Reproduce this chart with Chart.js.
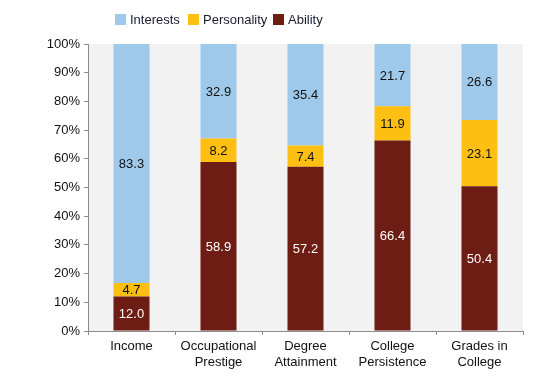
<!DOCTYPE html>
<html>
<head>
<meta charset="utf-8">
<script src="https://cdn.jsdelivr.net/npm/chart.js@4"></script>
<style>
  html, body { margin: 0; padding: 0; background: #fff; }
  #wrap { width: 552px; height: 384px; }
</style>
</head>
<body>
<div id="wrap"><canvas id="myChart"></canvas></div>
<script>
const categories = [['Income'], ['Occupational', 'Prestige'], ['Degree', 'Attainment'], ['College', 'Persistence'], ['Grades in', 'College']];
const ability = [12.0, 58.9, 57.2, 66.4, 50.4];
const personality = [4.7, 8.2, 7.4, 11.9, 23.1];
const interests = [83.3, 32.9, 35.4, 21.7, 26.6];

const font = "'Liberation Sans Narrow', 'Arial Narrow', 'Liberation Sans', Arial, sans-serif";

// gray plot area
const plotBg = {
	id: 'plotBg',
	beforeDraw(chart) {
		const { ctx, chartArea: a } = chart;
		ctx.save();
		ctx.fillStyle = '#f2f2f2';
		ctx.fillRect(a.left, a.top, a.right - a.left, a.bottom - a.top);
		ctx.restore();
	},
};

// value labels centred in each segment
const segLabels = {
	id: 'segLabels',
	afterDatasetsDraw(chart) {
		const ctx = chart.ctx;
		ctx.save();
		ctx.font = '13px ' + font;
		ctx.textAlign = 'center';
		ctx.textBaseline = 'middle';
		chart.data.datasets.forEach((ds, i) => {
			chart.getDatasetMeta(i).data.forEach((bar, j) => {
				const p = bar.getProps(['x', 'y', 'base'], true);
				ctx.fillStyle = ds.labelColor;
				ctx.fillText(ds.data[j].toFixed(1), p.x, (p.y + p.base) / 2 + 1);
			});
		});
		ctx.restore();
	},
};

// legend drawn by hand so it can sit left of centre
const topLegend = {
	id: 'topLegend',
	afterDraw(chart) {
		const ctx = chart.ctx;
		const items = [2, 1, 0];
		const xs = [115, 188, 273];
		ctx.save();
		ctx.font = '13px ' + font;
		ctx.textBaseline = 'middle';
		items.forEach((di, k) => {
			const ds = chart.data.datasets[di];
			ctx.fillStyle = ds.backgroundColor;
			ctx.fillRect(xs[k], 14, 11, 11);
			ctx.fillStyle = '#1a1a2e';
			ctx.fillText(ds.label, xs[k] + 15, 20);
		});
		ctx.restore();
	},
};

const ctx = document.getElementById('myChart');
new Chart(ctx, {
	type: 'bar',
	data: {
		labels: categories,
		datasets: [
			{ label: 'Ability', data: ability, backgroundColor: '#6d1d14', labelColor: '#ffffff' },
			{ label: 'Personality', data: personality, backgroundColor: '#fdbf12', labelColor: '#111111' },
			{ label: 'Interests', data: interests, backgroundColor: '#9fc9eb', labelColor: '#111111' },
		],
	},
	options: {
		responsive: true,
		maintainAspectRatio: false,
		animation: false,
		layout: { padding: { top: 44, right: 29, bottom: 0, left: 0 } },
		datasets: { bar: { barPercentage: 0.414, categoryPercentage: 1.0, borderWidth: 0 } },
		plugins: {
			legend: { display: false },
			tooltip: { enabled: false },
		},
		scales: {
			x: {
				stacked: true,
				afterFit(s) { s.height = 53; },
				grid: { drawOnChartArea: false, tickLength: 4, color: '#8c8c8c', offset: true },
				border: { color: '#8c8c8c' },
				ticks: { color: '#111', font: { family: font, size: 13 }, padding: 4, maxRotation: 0 },
			},
			y: {
				stacked: true,
				min: 0,
				max: 100,
				afterFit(s) { s.width = 88; },
				grid: { drawOnChartArea: false, tickLength: 4, color: '#8c8c8c' },
				border: { color: '#8c8c8c' },
				ticks: {
					stepSize: 10,
					color: '#111',
					padding: 4,
					font: { family: font, size: 13 },
					callback: (v) => v + '%',
				},
			},
		},
	},
	plugins: [plotBg, segLabels, topLegend],
});
</script>
</body>
</html>
